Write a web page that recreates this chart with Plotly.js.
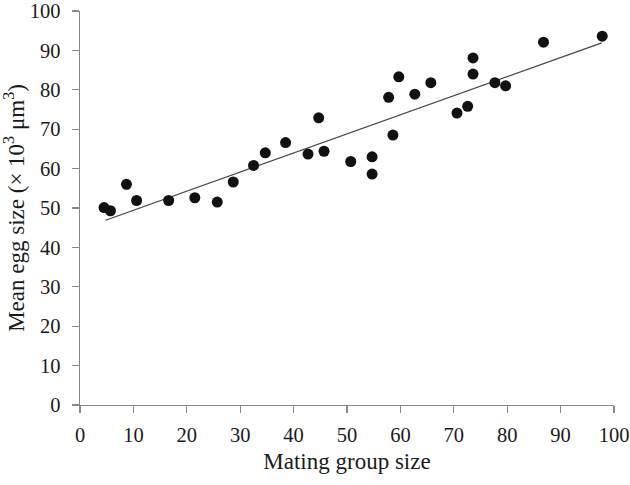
<!DOCTYPE html>
<html>
<head>
<meta charset="utf-8">
<script src="https://cdn.plot.ly/plotly-3.0.1.min.js"></script>
<style>html,body{margin:0;padding:0;background:#fff;}#chart{width:630px;height:485px;}</style>
</head>
<body>
<div id="chart"></div>
<script>
// Mating group size (x) and mean egg size (y, ×10^3 µm^3)
const groupSize = [4.5, 5.7, 8.7, 10.6, 16.6, 21.5, 25.7, 28.7, 32.5, 34.7, 38.5, 42.7, 44.7, 45.7, 50.7,
                   54.7, 54.7, 58.6, 57.8, 59.7, 62.7, 65.7, 70.6, 72.6, 73.6, 73.6, 77.7, 79.7, 86.8, 97.8];
const eggSize   = [50.1, 49.3, 56.0, 51.9, 51.9, 52.6, 51.5, 56.6, 60.8, 64.0, 66.6, 63.7, 72.9, 64.4, 61.8,
                   63.0, 58.6, 68.5, 78.1, 83.3, 78.9, 81.8, 74.1, 75.8, 88.1, 84.0, 81.8, 81.0, 92.1, 93.6];
// Fitted trend line end points
const trendX = [4.8, 97.7];
const trendY = [46.9, 91.9];
const xTicks = [0, 10, 20, 30, 40, 50, 60, 70, 80, 90, 100];
const yTicks = [0, 10, 20, 30, 40, 50, 60, 70, 80, 90, 100];

const font = {family: '"Liberation Serif", "Times New Roman", serif', color: '#1a1a1a'};

const data = [
  {x: trendX, y: trendY, mode: 'lines', type: 'scatter',
   line: {color: '#444', width: 1.2}, hoverinfo: 'skip', showlegend: false},
  {x: groupSize, y: eggSize, mode: 'markers', type: 'scatter',
   marker: {color: '#111', size: 11}, showlegend: false}
];

const axisBase = {
  showgrid: false, zeroline: false, showline: true, linecolor: '#888', linewidth: 1.3,
  ticks: 'outside', ticklen: 7, tickcolor: '#888', tickwidth: 1.3,
  ticklabeloverflow: 'allow',
  tickfont: Object.assign({size: 20.5}, font)
};

const layout = {
  width: 630, height: 485,
  margin: {l: 80, r: 16, t: 11, b: 80},
  paper_bgcolor: '#fff', plot_bgcolor: '#fff',
  font: font,
  xaxis: Object.assign({}, axisBase, {
    range: [0, 100], tickvals: xTicks, ticktext: xTicks.map(String),
    ticklabelstandoff: 4,
    title: {text: 'Mating group size', font: Object.assign({size: 23}, font), standoff: 8}
  }),
  yaxis: Object.assign({}, axisBase, {
    range: [0, 100], tickvals: yTicks, ticktext: yTicks.map(String),
    ticklabelstandoff: 7,
    title: {text: 'Mean egg size (× 10<sup>3</sup> μm<sup>3</sup>)', font: Object.assign({size: 23}, font), standoff: 4}
  })
};

Plotly.newPlot('chart', data, layout, {displayModeBar: false, staticPlot: true});
</script>
</body>
</html>
